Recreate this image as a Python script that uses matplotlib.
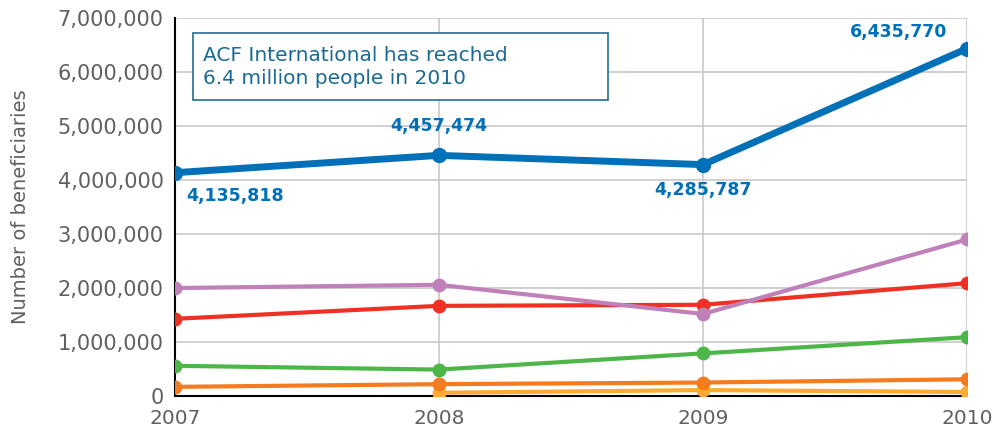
import matplotlib.pyplot as plt
from matplotlib.patches import Rectangle
from matplotlib.ticker import FuncFormatter

years = [2007, 2008, 2009, 2010]
total = [4135818, 4457474, 4285787, 6435770]
purple = [2000000, 2060000, 1520000, 2900000]
red = [1430000, 1670000, 1690000, 2090000]
green = [560000, 490000, 790000, 1090000]
orange = [170000, 220000, 250000, 310000]
yellow_years = [2008, 2009, 2010]
yellow = [60000, 110000, 75000]

fig = plt.figure(figsize=(9.93, 4.3), dpi=100)
ax = fig.add_axes([0.176, 0.079, 0.798, 0.879])

ax.plot(yellow_years, yellow, color='#FBAA33', lw=3, marker='o', ms=9, zorder=3)
ax.plot(years, orange, color='#F47B20', lw=3, marker='o', ms=9, zorder=3)
ax.plot(years, green, color='#4CB748', lw=3, marker='o', ms=9, zorder=3)
ax.plot(years, red, color='#EE3124', lw=3, marker='o', ms=9, zorder=3)
ax.plot(years, purple, color='#C080BA', lw=3, marker='o', ms=9, zorder=3)
ax.plot(years, total, color='#0070B8', lw=5, marker='o', ms=10, zorder=4)

# labels on the total line
offsets = [(8, -17, 'left'), (0, 21, 'center'), (0, -18, 'center'), (-14, 12, 'right')]
for x, y, (dx, dy, ha) in zip(years, total, offsets):
    ax.annotate(f"{y:,}", (x, y), xytext=(dx, dy), textcoords='offset points',
                ha=ha, va='center', color='#0070B8', fontsize=12.5, fontweight='bold')

ax.set_xlim(2007, 2010)
ax.set_ylim(0, 7000000)
ax.set_xticks(years)
ax.set_yticks(range(0, 7000001, 1000000))
ax.yaxis.set_major_formatter(FuncFormatter(lambda v, p: f"{int(v):,}"))
ax.tick_params(length=0, labelsize=15, labelcolor='#606060', pad=8)
ax.tick_params(axis='x', labelsize=14.5, pad=9)
ax.grid(True, color='#C8C8C8', lw=1.2)
ax.set_axisbelow(True)
for s in ['top', 'right']:
    ax.spines[s].set_visible(False)
ax.spines['left'].set_linewidth(1.5)
ax.spines['bottom'].set_linewidth(1.5)
ax.set_ylabel('Number of beneficiaries', fontsize=14, color='#606060', labelpad=20)

ax.add_patch(Rectangle((0.0227, 0.783), 0.524, 0.177, transform=ax.transAxes,
                       facecolor='white', edgecolor='#236C94', lw=1.2, zorder=5))
ax.text(0.035, 0.871, 'ACF International has reached\n6.4 million people in 2010',
        transform=ax.transAxes, fontsize=14.5, color='#1B6A93', va='center',
        ha='left', linespacing=1.3, zorder=6)

fig.savefig('out.png', dpi=100)
